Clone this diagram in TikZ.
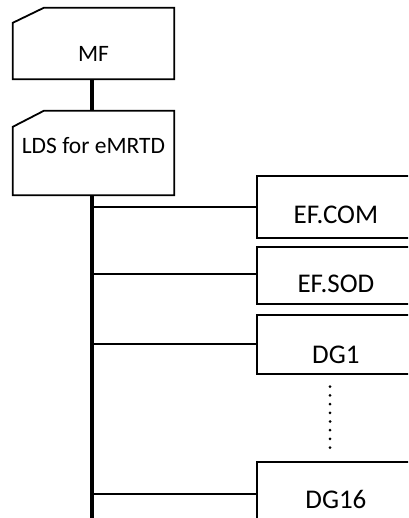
\documentclass[tikz,border=0pt]{standalone}
\usepackage{fontspec}
\setmainfont{Carlito}
\newcommand{\shiftdown}[2]{\raisebox{-#1}[\height][\depth]{#2}}
\begin{document}
\begin{tikzpicture}[x=1pt,y=-1pt,
  lbox/.style={draw=none,minimum width=161pt,inner sep=0pt,font=\fontsize{23.5}{26}\selectfont},
  rbox/.style={draw=black,line width=1.8pt,minimum width=158pt,minimum height=62pt,inner sep=0pt,anchor=north west,font=\fontsize{27}{30}\selectfont},
  spine/.style={line width=4.5pt},
  branch/.style={line width=2pt},
  frame/.style={line width=1.8pt,line join=miter}]
\useasboundingbox (0,0) rectangle (408,518);
\clip (0,0) rectangle (408,518);
% left boxes
\node[lbox,minimum height=71pt] (mf) at (93.5,43.5) {\shiftdown{10.5pt}{MF}};
\draw[frame] (mf.south west) -- ([yshift=-15pt]mf.north west) -- ([xshift=31pt]mf.north west) -- (mf.north east) -- (mf.south east) -- cycle;
\node[lbox,minimum height=84pt] (lds) at (93.5,153) {\shiftdown{-7pt}{LDS for eMRTD}};
\draw[frame] (lds.south west) -- ([yshift=-16pt]lds.north west) -- ([xshift=31pt]lds.north west) -- (lds.north east) -- (lds.south east) -- cycle;
% right boxes
\node[rbox] (com) at (256,175) {\shiftdown{8pt}{EF.COM}};
\node[rbox,minimum height=57pt] (sod) at (256,246) {\shiftdown{8pt}{EF.SOD}};
\node[rbox,minimum height=59pt] (dg1) at (256,314) {\shiftdown{10pt}{DG1}};
\node[rbox] (dg16) at (256,461) {\shiftdown{6.5pt}{DG16}};
% connectors
\coordinate (bot) at (92,530);
\draw[spine] ([xshift=-1.5pt]mf.south) -- ([xshift=-1.5pt]lds.north);
\draw[spine] ([xshift=-1.5pt]lds.south) -- (bot);
\draw[branch] (bot |- com.west) -- (com.west);
\draw[branch] ([yshift=1.5pt]bot |- sod.west) -- ([yshift=1.5pt]sod.west);
\draw[branch] (bot |- dg1.west) -- (dg1.west);
\draw[branch] ([yshift=-1pt]bot |- dg16.west) -- ([yshift=-1pt]dg16.west);
% ellipsis dots
\coordinate (d1) at (330,386.7);
\coordinate (d2) at (330,449);
\draw[line width=3pt,line cap=round,dash pattern=on 0pt off 8.7pt] (d1) -- (d2);
\end{tikzpicture}
\end{document}
